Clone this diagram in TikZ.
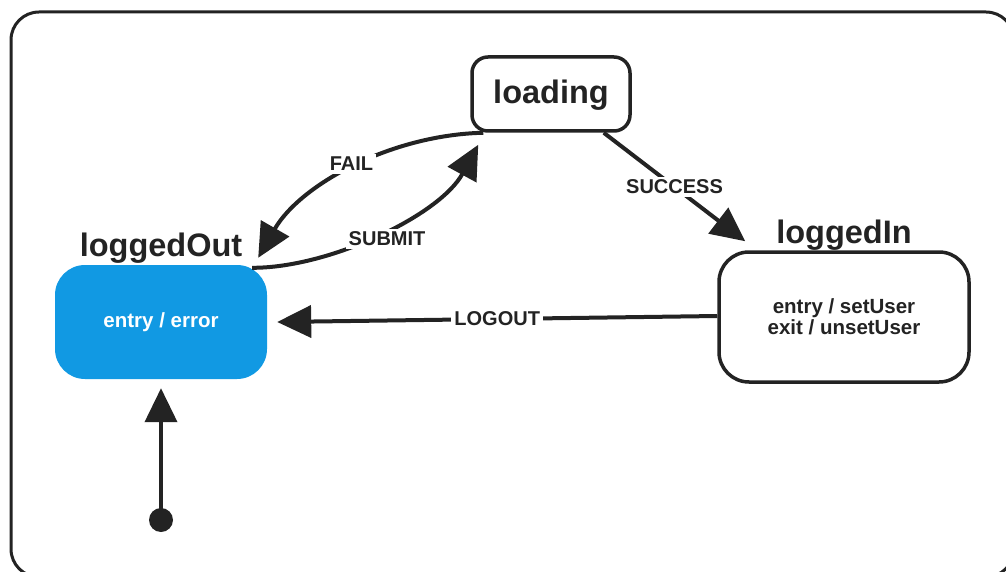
\documentclass[tikz,border=0pt]{standalone}
\usepackage{fontspec}
\setmainfont{Liberation Sans}
\usetikzlibrary{arrows.meta}
\definecolor{ink}{HTML}{232323}
\definecolor{stateblue}{HTML}{1199E3}
\tikzset{
  statebox/.style={draw=ink, line width=3.5pt, rounded corners=18pt, fill=white, inner sep=0pt},
  activebox/.style={draw=none, fill=stateblue, rounded corners=30pt, inner sep=0pt, text=white},
  heading/.style={font=\fontsize{32.5}{32.5}\selectfont\bfseries, text=ink, inner sep=0pt},
  body/.style={font=\fontsize{20.5}{20.5}\selectfont\bfseries, align=center},
  trans/.style={draw=ink, line width=4pt, -{Triangle[length=34pt,width=32pt]}},
  evt/.style={fill=white, text=ink, font=\fontsize{20}{20}\selectfont\bfseries, inner sep=3pt},
}
\begin{document}
\begin{tikzpicture}[x=1pt, y=-1pt]
\useasboundingbox (0,0) rectangle (1006,572);
% outer frame
\draw[ink, line width=3pt, rounded corners=28pt] (11,12) rectangle (1014,577);

% states
\node[statebox, rounded corners=16pt, minimum width=158pt, minimum height=74pt] (loading) at (551,94) {};
\node[heading, anchor=base] (loadingT) at (551,104) {loading};

\node[activebox, minimum width=212pt, minimum height=114pt, body, text=white] (out) at (161,322) {entry / error};
\node[heading, anchor=base] (outT) at (161,256) {loggedOut};

\node[statebox, rounded corners=30pt, minimum width=250pt, minimum height=130pt, body, text=ink] (in) at (844,317) {entry / setUser\\exit / unsetUser};
\node[heading, anchor=base] (inT) at (844,243) {loggedIn};

% initial pseudo-state
\node[circle, fill=ink, minimum size=24pt, inner sep=0pt] (init) at (161,520) {};

% transitions
\draw[trans] ([xshift=13pt]loading.south west)
  .. controls (390,135) and (300,185) ..
  node[evt, pos=0.5, yshift=5pt] {FAIL}
  ([xshift=-9pt,yshift=7pt]out.north east);

\draw[trans] ([xshift=-15pt,yshift=-3pt]out.north east)
  .. controls (330,268) and (440,215) ..
  node[evt, pos=0.5, yshift=-6pt, xshift=7pt] {SUBMIT}
  ([xshift=8pt,yshift=-12pt]loading.south west);

\draw[trans] ([xshift=-28pt]loading.south east)
  -- node[evt, pos=0.5] {SUCCESS}
  ([xshift=28pt,yshift=9pt]in.north west);

\draw[trans] ([yshift=1pt]in.west)
  -- node[evt, pos=0.5] {LOGOUT}
  ([xshift=10pt]out.east);

\draw[trans] (init.center) -- ([yshift=-9pt]out.south);
\end{tikzpicture}
\end{document}
